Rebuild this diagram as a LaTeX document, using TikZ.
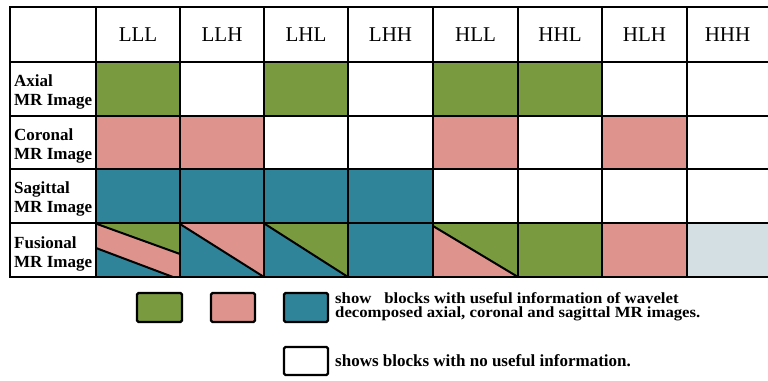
\documentclass[tikz,border=0pt]{standalone}
\usepackage{fontspec}
\setmainfont{Liberation Serif}
\definecolor{cgreen}{HTML}{7A9A3F}
\definecolor{cpink}{HTML}{DE948C}
\definecolor{cteal}{HTML}{2F8499}
\definecolor{cgray}{HTML}{D3DFE2}
\tikzset{
  grid/.style={line width=2.6pt, line cap=rect},
  diag/.style={line width=2pt},
  hdr/.style={font=\fontsize{21}{24}\selectfont, inner sep=0pt},
  rowlab/.style={font=\bfseries\fontsize{17}{19}\selectfont, align=left, anchor=west, inner sep=0pt},
  legtext/.style={font=\bfseries\fontsize{15.5}{16}\selectfont, anchor=west, inner sep=0pt},
  legbig/.style={font=\bfseries\fontsize{17}{19}\selectfont, anchor=west, inner sep=0pt},
  legbox/.style={draw, line width=2.4pt, rounded corners=1.5pt},
}
\begin{document}
\begin{tikzpicture}[x=1pt,y=-1pt]
\useasboundingbox (0,0) rectangle (768,380);
% Axial row
\fill[cgreen] (96,116) rectangle (180,62);
\fill[cgreen] (264,116) rectangle (348,62);
\fill[cgreen] (433,116) rectangle (602,62);
% Coronal row
\fill[cpink] (96,169) rectangle (264,116);
\fill[cpink] (433,169) rectangle (518,116);
\fill[cpink] (602,169) rectangle (687,116);
% Sagittal row
\fill[cteal] (96,223) rectangle (433,169);
% Fusional row
\fill[cpink] (96,223) rectangle (180,277);
\fill[cgreen] (97,224) -- (180,224) -- (180,254) -- cycle;
\fill[cteal] (96,248) -- (96,277) -- (173,277) -- cycle;
\fill[cpink] (180,223) rectangle (264,277);
\fill[cteal] (180,224) -- (180,277) -- (264,277) -- cycle;
\fill[cgreen] (264,223) rectangle (348,277);
\fill[cteal] (264,224) -- (264,277) -- (348,277) -- cycle;
\fill[cteal] (348,223) rectangle (433,277);
\fill[cgreen] (433,223) rectangle (518,277);
\fill[cpink] (433,226) -- (433,277) -- (518,277) -- cycle;
\fill[cgreen] (518,223) rectangle (602,277);
\fill[cpink] (602,223) rectangle (687,277);
\fill[cgray] (687,223) rectangle (768,277);
% diagonals
\draw[diag] (97,224) -- (180,254);
\draw[diag] (96,248) -- (173,277);
\draw[diag] (180,224) -- (264,277);
\draw[diag] (265,224) -- (348,277);
\draw[diag] (433,226) -- (518,277);
% grid
\foreach \y in {7,62,116,169,223,277} \draw[grid] (10,\y) -- (770,\y);
\foreach \x in {10,96,180,264,348,433,518,602,687} \draw[grid] (\x,7) -- (\x,277);
% header
\node[hdr] (hLLL) at (138,35) {LLL};
\node[hdr] (hLLH) at (222,35) {LLH};
\node[hdr] (hLHL) at (306,35) {LHL};
\node[hdr] (hLHH) at (390.5,35) {LHH};
\node[hdr] (hHLL) at (475.5,35) {HLL};
\node[hdr] (hHHL) at (560,35) {HHL};
\node[hdr] (hHLH) at (644.5,35) {HLH};
\node[hdr] (hHHH) at (727.5,35) {HHH};
% row labels
\node[rowlab] (rAx) at (14,92) {Axial\\MR Image};
\node[rowlab] (rCo) at (14,146) {Coronal\\MR Image};
\node[rowlab] (rSa) at (14,199) {Sagittal\\MR Image};
\node[rowlab] (rFu) at (14,254) {Fusional\\MR Image};
% legend
\draw[legbox, fill=cgreen] (137,293) rectangle (182,322);
\draw[legbox, fill=cpink] (211,293) rectangle (255,322);
\draw[legbox, fill=cteal] (284,293) rectangle (328,322);
\draw[legbox, fill=white] (284,347) rectangle (328,375);
\node[legtext] (l1) at (335,298) {\scalebox{1.08}[1]{show\hspace{8pt} blocks with useful information of wavelet}};
\node[legtext] (l2) at (335,314) {\scalebox{1.08}[1]{decomposed axial, coronal and sagittal MR images.}};
\node[legbig] (l3) at (335,361) {shows blocks with no useful information.};
\end{tikzpicture}
\end{document}
